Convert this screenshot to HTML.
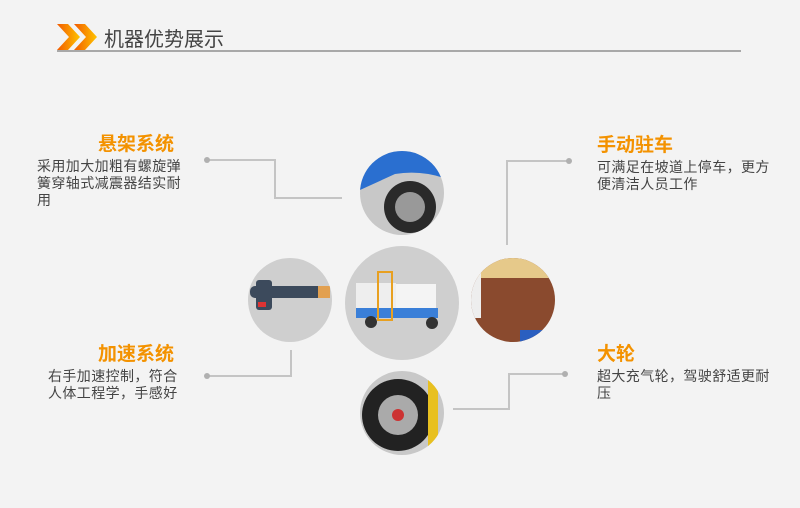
<!DOCTYPE html>
<html><head><meta charset="utf-8"><style>
body{margin:0;width:800px;height:508px;overflow:hidden;background:#f3f3f3;font-family:"Liberation Sans","Noto Sans CJK SC",sans-serif;position:relative}
.t{position:absolute;color:#f39200;font-size:19px;font-weight:bold;line-height:22px}
.d{position:absolute;color:#444;font-size:14px;line-height:17px;letter-spacing:0.4px}
</style></head><body>
<svg width="800" height="508" style="position:absolute;left:0;top:0">
<defs><linearGradient id="g" x1="0" x2="1"><stop offset="0" stop-color="#f25a00"/><stop offset="1" stop-color="#ffc400"/></linearGradient>
<clipPath id="cT"><circle cx="402" cy="193" r="42"/></clipPath>
<clipPath id="cC"><circle cx="402" cy="303" r="57"/></clipPath>
<clipPath id="cL"><circle cx="290" cy="300" r="42"/></clipPath>
<clipPath id="cR"><circle cx="513" cy="300" r="42"/></clipPath>
<clipPath id="cB"><circle cx="402" cy="413" r="42"/></clipPath>
</defs>
<polygon points="57,24 68,24 80,37 68,50 57,50 69,37" fill="url(#g)"/>
<polygon points="74,24 85,24 97,37 85,50 74,50 86,37" fill="url(#g)"/>
<rect x="57" y="50" width="684" height="2" fill="#a8a8a8"/>
<g stroke="#c4c4c4" stroke-width="2" fill="none">
<polyline points="207,160 275,160 275,198 342,198"/>
<polyline points="569,161 507,161 507,245"/>
<polyline points="207,376 291,376 291,350"/>
<polyline points="565,374 509,374 509,409 453,409"/>
</g>
<g fill="#b0b0b0"><circle cx="207" cy="160" r="3"/><circle cx="569" cy="161" r="3"/><circle cx="207" cy="376" r="3"/><circle cx="565" cy="374" r="3"/></g>
<circle cx="402" cy="303" r="57" fill="#cfcfcf"/>
<circle cx="290" cy="300" r="42" fill="#cfcfcf"/>
<circle cx="402" cy="193" r="42" fill="#c8c8c8"/>
<circle cx="513" cy="300" r="42" fill="#8a4a2e"/>
<circle cx="402" cy="413" r="42" fill="#c8c8c8"/>
<g clip-path="url(#cT)">
<path d="M355,185 Q360,148 402,146 Q440,148 448,172 L444,178 Q420,170 395,174 L360,190Z" fill="#2a6fd0"/>
<circle cx="410" cy="207" r="26" fill="#2a2a2a"/><circle cx="410" cy="207" r="15" fill="#999"/>
</g>
<g clip-path="url(#cC)">
<rect x="356" y="283" width="40" height="25" fill="#eee"/><rect x="396" y="284" width="40" height="25" fill="#f4f4f4"/>
<rect x="356" y="308" width="82" height="10" fill="#3a7fd8"/>
<rect x="378" y="272" width="14" height="48" fill="none" stroke="#e8a020" stroke-width="2"/>
<circle cx="371" cy="322" r="6" fill="#333"/><circle cx="432" cy="323" r="6" fill="#333"/>
</g>
<g clip-path="url(#cL)">
<rect x="250" y="286" width="78" height="12" rx="5" fill="#3c4a5c"/><rect x="318" y="286" width="12" height="12" fill="#e2a050"/>
<rect x="256" y="280" width="16" height="30" rx="3" fill="#3c4a5c"/><rect x="258" y="302" width="8" height="5" fill="#d33"/>
</g>
<g clip-path="url(#cR)">
<rect x="471" y="250" width="90" height="28" fill="#e6c98a"/>
<rect x="471" y="258" width="10" height="60" fill="#eee"/>
<rect x="520" y="330" width="40" height="15" fill="#2a5fc0"/>
</g>
<g clip-path="url(#cB)">
<circle cx="398" cy="415" r="36" fill="#222"/><circle cx="398" cy="415" r="20" fill="#aaa"/><circle cx="398" cy="415" r="6" fill="#c33"/>
<rect x="428" y="372" width="10" height="80" fill="#e8c020"/>
</g>
</svg>
<div style="position:absolute;left:104px;top:28px;font-size:20px;color:#444;line-height:24px">机器优势展示</div>
<div class="t" style="left:98px;top:134px">悬架系统</div>
<div class="d" style="left:37px;top:158px;width:148px">采用加大加粗有螺旋弹簧穿轴式减震器结实耐用</div>
<div class="t" style="left:597px;top:135px">手动驻车</div>
<div class="d" style="left:597px;top:159px;width:178px">可满足在坡道上停车，更方便清洁人员工作</div>
<div class="t" style="left:98px;top:344px">加速系统</div>
<div class="d" style="left:48px;top:368px;width:136px">右手加速控制，符合人体工程学，手感好</div>
<div class="t" style="left:597px;top:344px">大轮</div>
<div class="d" style="left:597px;top:368px;width:178px">超大充气轮，驾驶舒适更耐压</div>
</body></html>
